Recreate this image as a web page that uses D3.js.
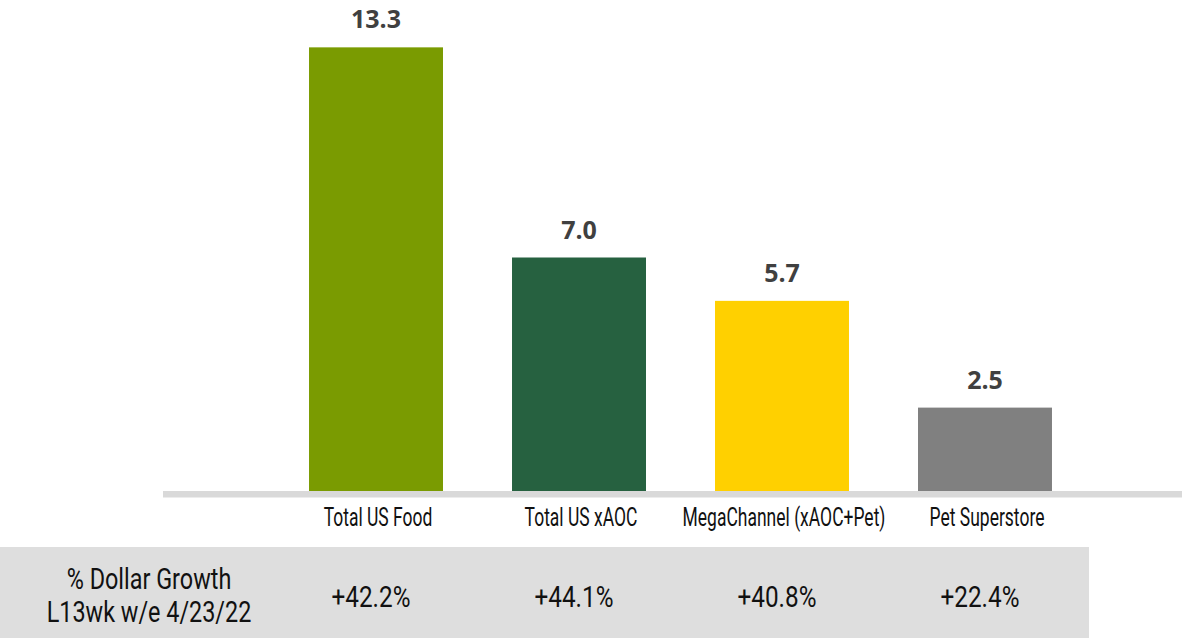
<!DOCTYPE html>
<html>
<head>
<meta charset="utf-8">
<script src="https://cdn.jsdelivr.net/npm/d3@7"></script>
<style>
  html, body { margin: 0; padding: 0; background: #fff; }
  svg { display: block; }
</style>
</head>
<body>
<svg id="chart" width="1182" height="638"></svg>
<script>
// Channel volumes (bars) and the dollar growth row beneath them
const categories = ["Total US Food", "Total US xAOC", "MegaChannel (xAOC+Pet)", "Pet Superstore"];
const values = [13.3, 7.0, 5.7, 2.5];
const growthLabels = ["+42.2%", "+44.1%", "+40.8%", "+22.4%"];
const rowTitle = ["% Dollar Growth", "L13wk w/e 4/23/22"];
const barColors = ["#7a9b01", "#266140", "#ffd000", "#808080"];

const svg = d3.select("#chart");
const W = 1182, H = 638;
const baseY = 491;

const x = d3.scaleBand().domain(categories).range([240, 1121]).padding(0.34);
const y = d3.scaleLinear().domain([0, 14]).range([baseY, 24]);

const condensed = "Roboto, 'Liberation Sans', sans-serif";

// place a horizontally condensed text centred at (cx, by)
function condText(g, str, cx, by, size, sx, fill) {
  g.append("text")
    .attr("transform", `translate(${cx},${by}) scale(${sx},1)`)
    .attr("text-anchor", "middle")
    .attr("font-family", condensed)
    .attr("font-weight", 400)
    .attr("font-size", size)
    .attr("fill", fill)
    .text(str);
}

// bars
svg.append("g").selectAll("rect")
  .data(values)
  .join("rect")
  .attr("x", (d, i) => x(categories[i]))
  .attr("y", d => y(d))
  .attr("width", x.bandwidth())
  .attr("height", d => baseY - y(d))
  .attr("fill", (d, i) => barColors[i]);

// value labels
svg.append("g").selectAll("text")
  .data(values)
  .join("text")
  .attr("x", (d, i) => x(categories[i]) + x.bandwidth() / 2)
  .attr("y", d => y(d) - 19)
  .attr("text-anchor", "middle")
  .attr("font-family", "'Open Sans', sans-serif")
  .attr("font-weight", 700)
  .attr("font-size", 25)
  .attr("fill", "#404040")
  .text(d => d3.format(".1f")(d));

// baseline axis
const axis = d3.axisBottom(x).tickSize(0).tickFormat("");
const axisG = svg.append("g").attr("transform", `translate(0,${baseY})`).call(axis);
axisG.select(".domain").remove();
svg.append("rect")
  .attr("x", 163).attr("y", baseY)
  .attr("width", W - 163).attr("height", 6.5)
  .attr("fill", "#d9d9d9");

// category labels
const catG = svg.append("g");
categories.forEach(c => {
  condText(catG, c, x(c) + x.bandwidth() / 2 + 2, 526, 25, 0.7, "#111");
});

// growth table strip
svg.append("rect")
  .attr("x", 0).attr("y", 547)
  .attr("width", 1089).attr("height", H - 547)
  .attr("fill", "#dedede");

const tblG = svg.append("g");
condText(tblG, rowTitle[0], 149, 589, 30, 0.78, "#111");
condText(tblG, rowTitle[1], 149, 622, 30, 0.78, "#111");
growthLabels.forEach((g, i) => {
  condText(tblG, g, x(categories[i]) + x.bandwidth() / 2 - 5, 607, 30, 0.81, "#111");
});
</script>
</body>
</html>
